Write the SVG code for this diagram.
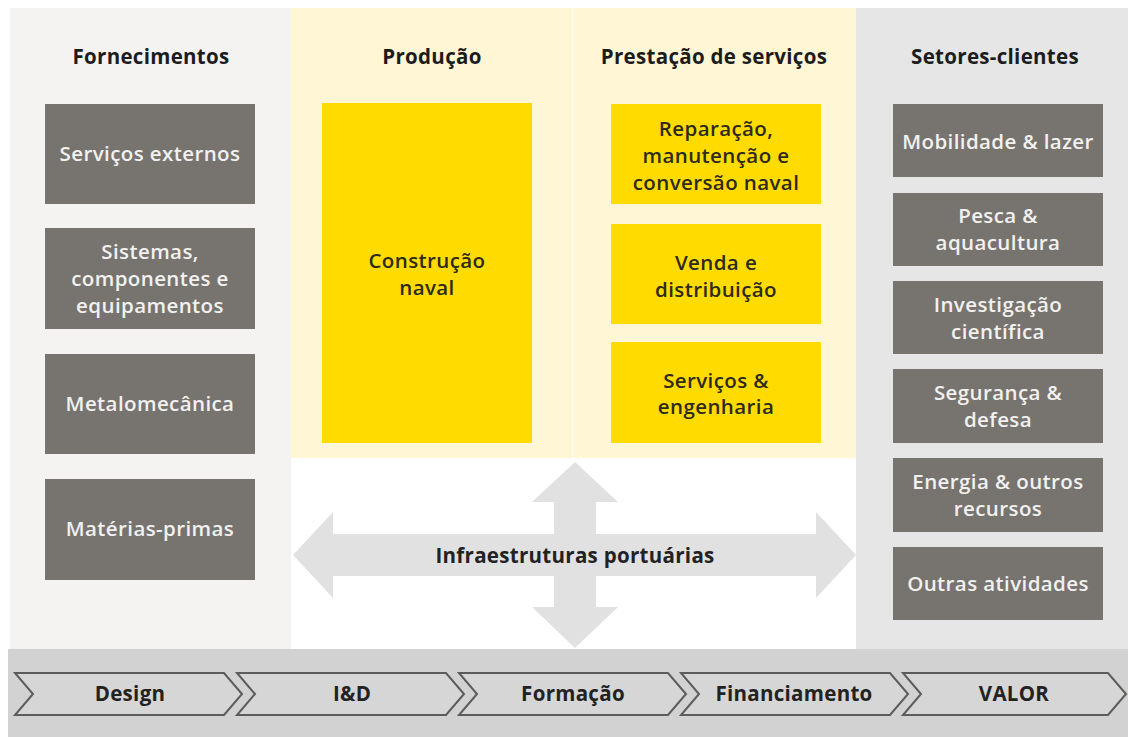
<svg xmlns="http://www.w3.org/2000/svg" width="1128" height="737" viewBox="0 0 1128 737">
  <style>
    .head { font-family: "Open Sans", "DejaVu Sans", sans-serif; font-weight: 700; font-size: 20.5px; letter-spacing: 0.3px; fill: #1c1c1c; text-anchor: middle; }
    .gbox { fill: #777470; }
    .ybox { fill: #ffdb00; }
    .gtxt { font-family: "Open Sans", "DejaVu Sans", sans-serif; font-weight: 600; font-size: 20.5px; letter-spacing: 0.4px; fill: #f2f1ef; text-anchor: middle; }
    .ytxt { font-family: "Open Sans", "DejaVu Sans", sans-serif; font-weight: 600; font-size: 20.5px; letter-spacing: 0.4px; fill: #2e2a1e; text-anchor: middle; }
    .chev { fill: #d6d6d6; stroke: #5e5c5a; stroke-width: 2; stroke-linejoin: miter; }
    .ctxt { font-family: "Open Sans", "DejaVu Sans", sans-serif; font-weight: 700; font-size: 20.5px; letter-spacing: 0.3px; fill: #222; text-anchor: middle; }
    .arrow { fill: #e1e1e1; }
  </style>

  <!-- background -->
  <rect x="0" y="0" width="1128" height="737" fill="#ffffff"/>

  <!-- column panels -->
  <g id="panels">
    <rect x="10" y="8" width="281" height="641" fill="#f4f3f2"/>
    <rect x="291" y="8" width="281" height="450" fill="#fff6d5"/>
    <rect x="573" y="8" width="283" height="450" fill="#fff6d5"/>
    <line x1="572.5" y1="8" x2="572.5" y2="458" stroke="#fffbea" stroke-width="1.5"/>
    <rect x="856" y="8" width="272" height="641" fill="#e6e6e6"/>
    <rect x="8" y="649" width="1120" height="88" fill="#d2d2d2"/>
  </g>

  <!-- column headings -->
  <g id="headings">
    <text class="head" x="151" y="64">Fornecimentos</text>
    <text class="head" x="432" y="64">Produção</text>
    <text class="head" x="714" y="64">Prestação de serviços</text>
    <text class="head" x="995" y="64">Setores-clientes</text>
  </g>

  <!-- port infrastructure cross -->
  <g id="connectors">
    <path class="arrow" d="M575,462 L618,502 L596,502 L596,534 L816,534 L816,512 L856,555 L816,598 L816,576 L596,576 L596,607 L618,607 L575,648 L532,607 L554,607 L554,576 L333,576 L333,598 L293,555 L333,512 L333,534 L554,534 L554,502 L532,502 Z"/>
    <text class="ctxt" x="575" y="563">Infraestruturas portuárias</text>
  </g>

  <!-- supplies -->
  <g id="n-servicos-externos">
    <rect class="gbox" x="45" y="104" width="210" height="100"/>
    <text class="gtxt" x="150" y="161">Serviços externos</text>
  </g>
  <g id="n-sistemas">
    <rect class="gbox" x="45" y="228" width="210" height="101"/>
    <text class="gtxt" x="150" y="259">Sistemas,</text>
    <text class="gtxt" x="150" y="286">componentes e</text>
    <text class="gtxt" x="150" y="313">equipamentos</text>
  </g>
  <g id="n-metalomecanica">
    <rect class="gbox" x="45" y="354" width="210" height="100"/>
    <text class="gtxt" x="150" y="411">Metalomecânica</text>
  </g>
  <g id="n-materias-primas">
    <rect class="gbox" x="45" y="479" width="210" height="101"/>
    <text class="gtxt" x="150" y="536">Matérias-primas</text>
  </g>

  <!-- production -->
  <g id="n-construcao-naval">
    <rect class="ybox" x="322" y="103" width="210" height="340"/>
    <text class="ytxt" x="427" y="268">Construção</text>
    <text class="ytxt" x="427" y="295">naval</text>
  </g>

  <!-- services -->
  <g id="n-reparacao">
    <rect class="ybox" x="611" y="104" width="210" height="100"/>
    <text class="ytxt" x="716" y="136">Reparação,</text>
    <text class="ytxt" x="716" y="163">manutenção e</text>
    <text class="ytxt" x="716" y="190">conversão naval</text>
  </g>
  <g id="n-venda">
    <rect class="ybox" x="611" y="224" width="210" height="100"/>
    <text class="ytxt" x="716" y="270">Venda e</text>
    <text class="ytxt" x="716" y="297">distribuição</text>
  </g>
  <g id="n-servicos-engenharia">
    <rect class="ybox" x="611" y="342" width="210" height="101"/>
    <text class="ytxt" x="716" y="388">Serviços &amp;</text>
    <text class="ytxt" x="716" y="414">engenharia</text>
  </g>

  <!-- client sectors -->
  <g id="n-mobilidade">
    <rect class="gbox" x="893" y="104" width="210" height="73"/>
    <text class="gtxt" x="998" y="149">Mobilidade &amp; lazer</text>
  </g>
  <g id="n-pesca">
    <rect class="gbox" x="893" y="193" width="210" height="73"/>
    <text class="gtxt" x="998" y="223">Pesca &amp;</text>
    <text class="gtxt" x="998" y="250">aquacultura</text>
  </g>
  <g id="n-investigacao">
    <rect class="gbox" x="893" y="281" width="210" height="73"/>
    <text class="gtxt" x="998" y="312">Investigação</text>
    <text class="gtxt" x="998" y="339">científica</text>
  </g>
  <g id="n-seguranca">
    <rect class="gbox" x="893" y="369" width="210" height="74"/>
    <text class="gtxt" x="998" y="400">Segurança &amp;</text>
    <text class="gtxt" x="998" y="427">defesa</text>
  </g>
  <g id="n-energia">
    <rect class="gbox" x="893" y="458" width="210" height="74"/>
    <text class="gtxt" x="998" y="489">Energia &amp; outros</text>
    <text class="gtxt" x="998" y="516">recursos</text>
  </g>
  <g id="n-outras">
    <rect class="gbox" x="893" y="547" width="210" height="73"/>
    <text class="gtxt" x="998" y="591">Outras atividades</text>
  </g>

  <!-- value chain chevrons -->
  <g id="n-design">
    <path class="chev" d="M15,673 L224,673 L242,694 L224,715 L15,715 L33,694 Z"/>
    <text class="ctxt" x="130" y="701">Design</text>
  </g>
  <g id="n-id">
    <path class="chev" d="M237,673 L446,673 L464,694 L446,715 L237,715 L255,694 Z"/>
    <text class="ctxt" x="352" y="701">I&amp;D</text>
  </g>
  <g id="n-formacao">
    <path class="chev" d="M459,673 L668,673 L686,694 L668,715 L459,715 L477,694 Z"/>
    <text class="ctxt" x="573" y="701">Formação</text>
  </g>
  <g id="n-financiamento">
    <path class="chev" d="M681,673 L890,673 L908,694 L890,715 L681,715 L699,694 Z"/>
    <text class="ctxt" x="794" y="701">Financiamento</text>
  </g>
  <g id="n-valor">
    <path class="chev" d="M903,673 L1108,673 L1126,694 L1108,715 L903,715 L921,694 Z"/>
    <text class="ctxt" x="1014" y="701">VALOR</text>
  </g>
</svg>
